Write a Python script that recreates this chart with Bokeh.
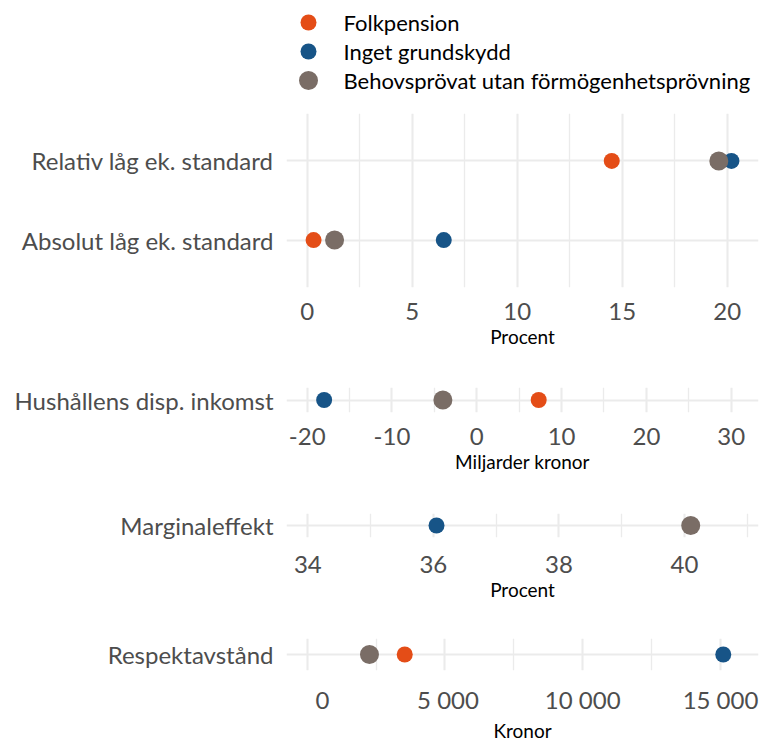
from bokeh.plotting import figure
from bokeh.layouts import column
from bokeh.models import FixedTicker, Range1d, FactorRange, ColumnDataSource
from bokeh.embed import file_html
from bokeh.resources import INLINE
from bokeh.core.properties import value

# ---------------- data ----------------
series = ["Folkpension", "Inget grundskydd", "Behovsprövat utan förmögenhetsprövning"]
colors = ["#E44D17", "#175487", "#7A6D66"]

# Panel 1: låg ekonomisk standard (procent)
p1_cats = ["Absolut låg ek. standard", "Relativ låg ek. standard"]
p1_folk = [0.3, 14.5]
p1_inget = [6.5, 20.2]
p1_behov = [1.3, 19.6]
p1_ticks = [0, 5, 10, 15, 20]
p1_minor = [2.5, 7.5, 12.5, 17.5]
p1_title = "Procent"

# Panel 2: hushållens disponibla inkomst (miljarder kronor)
p2_cats = ["Hushållens disp. inkomst"]
p2_folk = [7.3]
p2_inget = [-18.0]
p2_behov = [-4.0]
p2_ticks = [-20, -10, 0, 10, 20, 30]
p2_minor = [-15, -5, 5, 15, 25]
p2_labels = ["-20", "-10", "0", "10", "20", "30"]
p2_title = "Miljarder kronor"

# Panel 3: marginaleffekt (procent)
p3_cats = ["Marginaleffekt"]
p3_folk = [40.1]
p3_inget = [36.05]
p3_behov = [40.1]
p3_ticks = [34, 36, 38, 40]
p3_minor = [35, 37, 39, 41]
p3_title = "Procent"

# Panel 4: respektavstånd (kronor)
p4_cats = ["Respektavstånd"]
p4_folk = [3540]
p4_inget = [15100]
p4_behov = [2260]
p4_ticks = [0, 5000, 10000, 15000]
p4_minor = [2500, 7500, 12500]
p4_labels = ["\u00a0\u00a0\u00a0\u00a0\u00a00", "\u00a05 000", "10 000", "15 000"]
p4_title = "Kronor"

# ---------------- styling ----------------
W = 760
FONT = "Lato"
GRID = "#EBEBEB"
TXT = "#4D4D4D"
LEFT = 286
RIGHT = 2
sizes = [16, 16, 19]


def make_panel(cats, folk, inget, behov, xr, ticks, minor, title,
               frame_h, top, bottom, overrides=None,
               label_standoff=14, title_standoff=2):
    p = figure(width=W, height=top + frame_h + bottom,
               x_range=Range1d(*xr),
               y_range=FactorRange(factors=cats, range_padding=0.1,
                                   range_padding_units="absolute"),
               output_backend="svg", toolbar_location=None,
               min_border_left=LEFT, min_border_right=RIGHT,
               min_border_top=top, min_border_bottom=bottom)
    p.outline_line_color = None
    p.background_fill_color = "white"
    p.border_fill_color = "white"

    for vals, col, sz in zip([folk, inget, behov], colors, sizes):
        src = ColumnDataSource(dict(x=vals, y=cats))
        p.scatter(x="x", y="y", source=src, size=sz, color=col,
                  marker="circle", line_color=None)

    p.xaxis.ticker = FixedTicker(ticks=ticks, minor_ticks=minor)
    if overrides:
        p.xaxis.major_label_overrides = overrides
    p.xaxis.axis_line_color = None
    p.xaxis.major_tick_line_color = None
    p.xaxis.minor_tick_line_color = None
    p.xaxis.major_tick_out = 0
    p.xaxis.minor_tick_out = 0
    p.xaxis.major_label_text_font = FONT
    p.xaxis.major_label_text_font_size = "24px"
    p.xaxis.major_label_text_color = TXT
    p.xaxis.major_label_standoff = label_standoff
    p.xaxis.axis_label = title
    p.xaxis.axis_label_text_font = FONT
    p.xaxis.axis_label_text_font_size = "19px"
    p.xaxis.axis_label_text_font_style = "normal"
    p.xaxis.axis_label_text_color = "black"
    p.xaxis.axis_label_standoff = title_standoff

    p.yaxis.axis_line_color = None
    p.yaxis.major_tick_line_color = None
    p.yaxis.minor_tick_line_color = None
    p.yaxis.major_tick_out = 0
    p.yaxis.minor_tick_out = 0
    p.yaxis.major_label_text_font = FONT
    p.yaxis.major_label_text_font_size = "24px"
    p.yaxis.major_label_text_color = TXT
    p.yaxis.major_label_standoff = 13

    p.xgrid.grid_line_color = GRID
    p.xgrid.grid_line_width = 2.1
    p.xgrid.minor_grid_line_color = GRID
    p.xgrid.minor_grid_line_width = 1.3
    p.ygrid.grid_line_color = GRID
    p.ygrid.grid_line_width = 2.1
    return p


# legend figure (x coordinates in page pixels, aligned with panel frames)
LH = 113
lg = figure(width=W, height=LH, x_range=Range1d(LEFT, W - RIGHT),
            y_range=Range1d(LH, 0),
            output_backend="svg", toolbar_location=None,
            x_axis_location=None, y_axis_location=None,
            min_border_left=LEFT, min_border_right=RIGHT,
            min_border_top=0, min_border_bottom=0)
lg.outline_line_color = None
lg.grid.visible = False
n = len(series)
ly = [22 + 29 * i for i in range(n)]
lsrc = ColumnDataSource(dict(x=[308] * n, tx=[343] * n, y=ly,
                             text=series, color=colors, size=sizes))
lg.scatter(x="x", y="y", size="size", color="color", line_color=None, source=lsrc)
lg.text(x="tx", y="y", text="text", source=lsrc, text_baseline="middle",
        text_font=value(FONT), text_font_size="22px", text_color="black")

p1 = make_panel(p1_cats, p1_folk, p1_inget, p1_behov, (-0.99, 21.49),
                p1_ticks, p1_minor, p1_title, 174, 0, 90, label_standoff=15)
p2 = make_panel(p2_cats, p2_folk, p2_inget, p2_behov, (-22.44, 33.22),
                p2_ticks, p2_minor, p2_title, 25, 10, 91,
                overrides=dict(zip(p2_ticks, p2_labels)), label_standoff=15)
p3 = make_panel(p3_cats, p3_folk, p3_inget, p3_behov, (33.66, 41.18),
                p3_ticks, p3_minor, p3_title, 24, 10, 91,
                label_standoff=18)
p4 = make_panel(p4_cats, p4_folk, p4_inget, p4_behov, (-751, 16379),
                p4_ticks, p4_minor, p4_title, 47, 10, 59,
                overrides=dict(zip(p4_ticks, p4_labels)),
                label_standoff=14, title_standoff=2)

layout = column(lg, p1, p2, p3, p4, spacing=0)
open("out.html", "w").write(file_html(layout, INLINE))
